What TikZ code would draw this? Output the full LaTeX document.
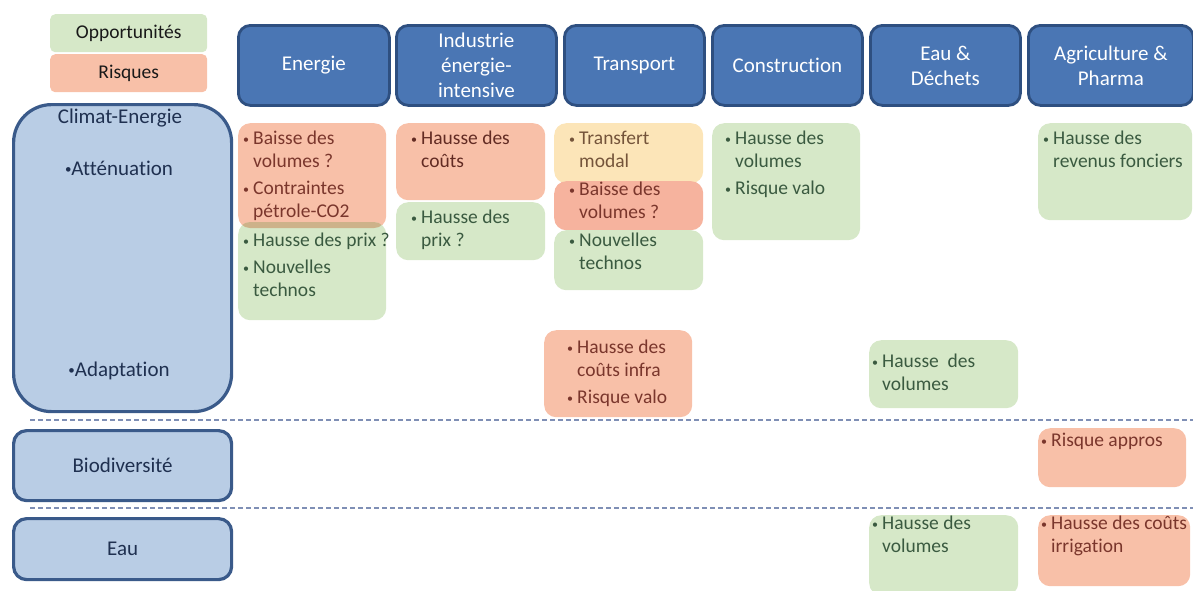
\documentclass[tikz,border=0pt]{standalone}
\usepackage{fontspec}
\setmainfont{Carlito}[Ligatures=NoCommon]
\definecolor{hdrF}{HTML}{4A76B4}
\definecolor{hdrB}{HTML}{2E4F80}
\definecolor{lftF}{HTML}{B9CDE5}
\definecolor{lftB}{HTML}{3A5A8A}
\definecolor{lftT}{HTML}{1F3050}
\definecolor{grn}{HTML}{D6E8C8}
\definecolor{sal}{HTML}{F8C0A8}
\definecolor{sal2}{HTML}{F6B39E}
\definecolor{yel}{HTML}{FCE5B8}
\definecolor{ovl}{HTML}{CDB28A}
\definecolor{gtxt}{HTML}{3A5A40}
\definecolor{rtxt}{HTML}{7A362C}
\definecolor{ytxt}{HTML}{74543A}
\definecolor{dash}{HTML}{7F8FB5}
\newcommand\cfont{\fontsize{19.5}{23}\selectfont}
\newcommand\hfont{\fontsize{21}{25}\selectfont}
\newcommand\bl{\makebox[10pt][l]{\fontsize{12}{12}\selectfont\raisebox{1.5pt}{•}}}
\newcommand\lb{{\fontsize{13}{13}\selectfont\raisebox{2pt}{•}}}
\newcommand\hg{\hspace*{10pt}}
\tikzset{
  hdr/.style={draw=hdrB, fill=hdrF, line width=2.8pt, rounded corners=12pt,
    minimum width=#1, minimum height=80pt, anchor=north west, inner sep=0pt,
    text=white, font=\hfont, align=center},
  lft/.style={draw=lftB, fill=lftF, line width=3.2pt, anchor=north west, inner sep=0pt},
  lfttxt/.style={text=lftT, font=\fontsize{21}{24}\selectfont, inner sep=0pt},
  cbox/.style={draw=none, rounded corners=12pt, anchor=north west, inner sep=0pt},
  ctxt/.style={anchor=north west, inner sep=0pt, font=\cfont, align=left},
  leg/.style={draw=none, rounded corners=5pt, minimum width=157pt, minimum height=38pt,
    anchor=north west, inner sep=0pt, font=\fontsize{19.5}{21}\selectfont, text=black!90},
  sep/.style={draw=dash, line width=1.4pt, dash pattern=on 5pt off 3pt}
}
\begin{document}
\begin{tikzpicture}[x=1pt,y=-1pt]
\useasboundingbox (0,0) rectangle (1193,590);
% legend
\node[leg, fill=grn] (lg1) at (50,14) {Opportunités};
\node[leg, fill=sal] (lg2) at (50,54) {Risques};
% headers
\node[hdr=151pt] (h1) at (237,24) {Energie};
\node[hdr=160pt] (h2) at (395,24) {Industrie\\énergie-\\intensive};
\node[hdr=140pt] (h3) at (563,24) {Transport};
\node[hdr=150pt] (h4) at (711,24) {Construction};
\node[hdr=150pt] (h5) at (869,24) {Eau \&\\Déchets};
\node[hdr=165pt] (h6) at (1027,24) {Agriculture \&\\Pharma};
% left rows
\node[lft, rounded corners=38pt, minimum width=218pt, minimum height=307pt] (r1) at (12,103) {};
\node[lft, rounded corners=13pt, minimum width=218pt, minimum height=70pt] (r2) at (12,429) {};
\node[lft, rounded corners=13pt, minimum width=218pt, minimum height=61pt] (r3) at (12,517) {};
\node[lfttxt] (r1t) at (120,118) {Climat-Energie};
\node[lfttxt] (r1a) at (119,168) {\lb Atténuation};
\node[lfttxt] (r1b) at (119,371) {\lb Adaptation};
\node[lfttxt] (r2t) at (r2.center) {Biodiversité};
\node[lfttxt] (r3t) at (r3.center) {Eau};
% separators
\coordinate (d1a) at (30,420); \coordinate (d1b) at (1193,420);
\coordinate (d2a) at (30,508); \coordinate (d2b) at (1193,508);
\draw[sep] (d1a) -- (d1b);
\draw[sep] (d2a) -- (d2b);
% Energie
\node[cbox, fill=sal, minimum width=148pt, minimum height=105pt] (er) at (238,123) {};
\node[cbox, fill=grn, minimum width=148pt, minimum height=98pt] (eg) at (238,222) {};
\begin{scope}
\clip[rounded corners=12pt] (238,123) rectangle (386,228);
\fill[ovl, rounded corners=12pt] (238,222) rectangle (386,320);
\end{scope}
\node[ctxt, text=rtxt] (ert) at (243,131) {\bl Baisse des\\\hg volumes ?\\[4pt]\bl Contraintes\\\hg pétrole-CO2};
\node[ctxt, text=gtxt] (egt) at (243,233) {\bl Hausse des prix ?\\[4pt]\bl Nouvelles\\\hg technos};
% Industrie
\node[cbox, fill=sal, minimum width=149pt, minimum height=77pt] (ir) at (396,123) {};
\node[cbox, fill=grn, minimum width=149pt, minimum height=58pt] (ig) at (396,202) {};
\node[ctxt, text=rtxt!80!black] (irt) at (411,131) {\bl Hausse des\\\hg coûts};
\node[ctxt, text=gtxt] (igt) at (411,210) {\bl Hausse des\\\hg prix ?};
% Transport
\node[cbox, fill=yel, minimum width=149pt, minimum height=60pt] (ty) at (554,123) {};
\node[cbox, fill=sal2, minimum width=149pt, minimum height=49pt] (tr) at (554,181) {};
\node[cbox, fill=grn, minimum width=149pt, minimum height=60pt] (tg) at (554,230) {};
\node[ctxt, text=ytxt] (tyt) at (569,131) {\bl Transfert\\\hg modal};
\node[ctxt, text=rtxt] (trt) at (569,182) {\bl Baisse des\\\hg volumes ?};
\node[ctxt, text=gtxt] (tgt) at (569,233) {\bl Nouvelles\\\hg technos};
% Construction
\node[cbox, fill=grn, minimum width=148pt, minimum height=117pt] (cg) at (712,123) {};
\node[ctxt, text=gtxt] (cgt) at (725,131) {\bl Hausse des\\\hg volumes\\[4pt]\bl Risque valo};
% Agriculture
\node[cbox, fill=grn, minimum width=154pt, minimum height=97pt] (ag) at (1038,123) {};
\node[ctxt, text=gtxt] (agt) at (1043,131) {\bl Hausse des\\\hg revenus fonciers};
% Adaptation
\node[cbox, fill=sal, minimum width=148pt, minimum height=87pt] (tar) at (544,330) {};
\node[ctxt, text=rtxt] (tart) at (567,340) {\bl Hausse des\\\hg coûts infra\\[4pt]\bl Risque valo};
\node[cbox, fill=grn, minimum width=149pt, minimum height=68pt] (eag) at (869,340) {};
\node[ctxt, text=gtxt] (eagt) at (872,354) {\bl Hausse~ des\\\hg volumes};
% Biodiversite
\node[cbox, fill=sal, minimum width=148pt, minimum height=59pt] (abr) at (1038,428) {};
\node[ctxt, text=rtxt] (abrt) at (1041,433) {\bl Risque appros};
% Eau
\node[cbox, fill=grn, minimum width=149pt, minimum height=80pt] (eeg) at (869,515) {};
\node[ctxt, text=gtxt] (eegt) at (872,516) {\bl Hausse des\\\hg volumes};
\node[cbox, fill=sal, minimum width=152pt, minimum height=71pt] (aer) at (1038,515) {};
\node[ctxt, text=rtxt] (aert) at (1041,516) {\bl Hausse des coûts\\\hg irrigation};
\end{tikzpicture}
\end{document}
